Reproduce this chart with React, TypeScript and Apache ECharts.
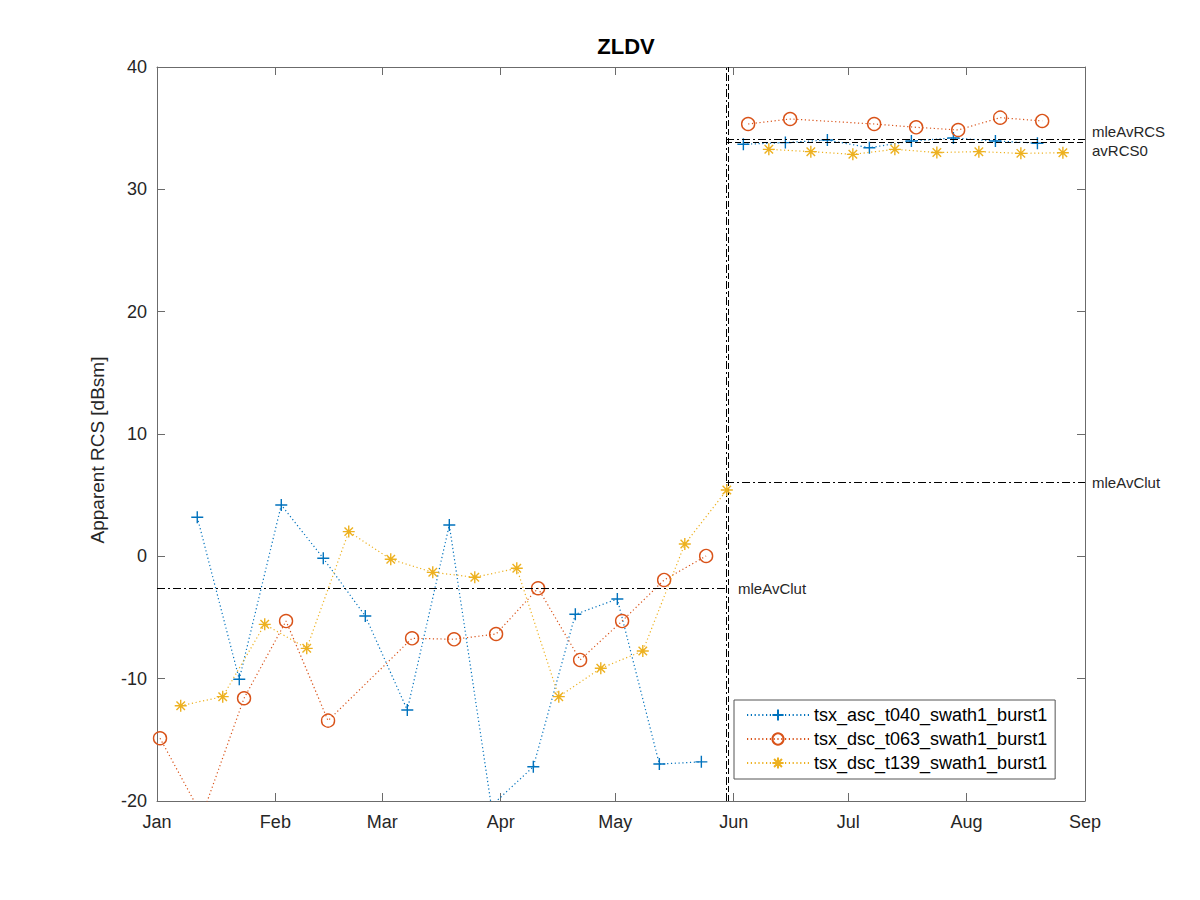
import React, { useEffect, useRef } from 'react';
import * as echarts from 'echarts';

const FONT = '"Liberation Sans", Arial, Helvetica, sans-serif';
const TEXT_COLOR = '#262626';
const AXIS_COLOR = '#6b6b6b';

const TITLE = 'ZLDV';
const Y_LABEL = 'Apparent RCS [dBsm]';
const X_MIN = '2019-01-01';
const X_MAX = '2019-09-01';
const Y_MIN = -20;
const Y_MAX = 40;
const Y_STEP = 10;

const seriesNames = ['tsx_asc_t040_swath1_burst1', 'tsx_dsc_t063_swath1_burst1', 'tsx_dsc_t139_swath1_burst1'];
const seriesColors = ['#0072BD', '#D95319', '#EDB120'];

// tsx_asc_t040 (acquisition time of day)
const ascTime = '13:00';
const ascDates1 = ['2019-01-11', '2019-01-22', '2019-02-02', '2019-02-13', '2019-02-24', '2019-03-07', '2019-03-18', '2019-03-29', '2019-04-09', '2019-04-20', '2019-05-01', '2019-05-12', '2019-05-23'];
const ascValues1 = [3.2, -10.05, 4.2, -0.16, -4.88, -12.56, 2.56, -20.4, -17.2, -4.74, -3.49, -16.98, -16.8];
const ascDates2 = ['2019-06-03', '2019-06-14', '2019-06-25', '2019-07-06', '2019-07-17', '2019-07-28', '2019-08-08', '2019-08-19'];
const ascValues2 = [33.68, 33.82, 34.03, 33.4, 33.95, 34.2, 33.95, 33.77];

// tsx_dsc_t063
const dsc063Time = '19:00';
const dsc063Dates1 = ['2019-01-01', '2019-01-12', '2019-01-23', '2019-02-03', '2019-02-14', '2019-03-08', '2019-03-19', '2019-03-30', '2019-04-10', '2019-04-21', '2019-05-02', '2019-05-13', '2019-05-24'];
const dsc063Values1 = [-14.87, -21.2, -11.6, -5.29, -13.43, -6.7, -6.78, -6.35, -2.61, -8.47, -5.29, -1.93, 0.03];
const dsc063Dates2 = ['2019-06-04', '2019-06-15', '2019-07-07', '2019-07-18', '2019-07-29', '2019-08-09', '2019-08-20'];
const dsc063Values2 = [35.34, 35.75, 35.34, 35.07, 34.85, 35.86, 35.59];

// tsx_dsc_t139
const dsc139Time = '05:00';
const dsc139Dates1 = ['2019-01-07', '2019-01-18', '2019-01-29', '2019-02-09', '2019-02-20', '2019-03-03', '2019-03-14', '2019-03-25', '2019-04-05', '2019-04-16', '2019-04-27', '2019-05-08', '2019-05-19', '2019-05-30'];
const dsc139Values1 = [-12.21, -11.47, -5.56, -7.52, 2.02, -0.24, -1.31, -1.71, -0.98, -11.47, -9.15, -7.74, 1.01, 5.42];
const dsc139Dates2 = ['2019-06-10', '2019-06-21', '2019-07-02', '2019-07-13', '2019-07-24', '2019-08-04', '2019-08-15', '2019-08-26'];
const dsc139Values2 = [33.27, 33.08, 32.86, 33.27, 33.01, 33.08, 32.94, 32.99];

// reference lines
const changeDateDashDot = '2019-05-30 00:00';
const changeDateDashed = '2019-05-30 12:00';
const mleAvClutBefore = -2.61;
const mleAvClutAfter = 6.02;
const mleAvRCS = 34.09;
const avRCS0 = 33.82;

function ts(s: string): number {
  const [d, tm] = s.split(' ');
  const [y, m, dd] = d.split('-').map(Number);
  const [h, mi] = (tm || '00:00').split(':').map(Number);
  return new Date(y, m - 1, dd, h, mi).getTime();
}

function buildData(d1: string[], v1: number[], d2: string[], v2: number[], time: string) {
  const a: any[] = d1.map((d, i) => [ts(d + ' ' + time), v1[i]]);
  const b: any[] = d2.map((d, i) => [ts(d + ' ' + time), v2[i]]);
  const gap = (a[a.length - 1][0] + b[0][0]) / 2;
  return [...a, [gap, null], ...b];
}

const DASH_DOT = [8, 3, 2, 3];
const DASHED = [6, 3];
const DOTTED = [1.2, 2.6];

const PLUS = 'path://M6,0L6,12M0,6L12,6';
const STAR = 'path://M6,0L6,12M0,6L12,6M1.76,1.76L10.24,10.24M1.76,10.24L10.24,1.76';

export default function App() {
  const ref = useRef<HTMLDivElement>(null);
  useEffect(() => {
    if (!ref.current) return;
    const chart = echarts.init(ref.current, undefined, { renderer: 'svg' });
    const x0 = ts(X_MIN);
    const x1 = ts(X_MAX);
    const tc = ts(changeDateDashDot);

    const mkSeries = (idx: number, data: any[], symbol: string, size: number, fill: string) => ({
      name: seriesNames[idx],
      type: 'line',
      data,
      connectNulls: false,
      symbol,
      symbolSize: size,
      symbolKeepAspect: true,
      clip: true,
      lineStyle: { color: seriesColors[idx], width: 1.2, type: DOTTED },
      itemStyle: { color: fill, borderColor: seriesColors[idx], borderWidth: 1.4 },
      emphasis: { disabled: true },
      z: 3 + idx,
    });

    const refLineLabel = { fontFamily: FONT, fontSize: 15, color: TEXT_COLOR };
    const axisLineStyle = { show: true, onZero: false, lineStyle: { color: AXIS_COLOR, width: 1 } };
    const tickStyle = { show: true, inside: true, length: 8, lineStyle: { color: AXIS_COLOR } };

    const option: any = {
      animation: false,
      title: {
        text: TITLE,
        left: 621,
        top: 30,
        textAlign: 'center',
        textStyle: { fontFamily: FONT, fontSize: 22, fontWeight: 'bold', color: '#000' },
      },
      graphic: [
        {
          type: 'text',
          x: 97,
          y: 450,
          rotation: Math.PI / 2,
          style: {
            text: Y_LABEL,
            fontFamily: FONT,
            fontSize: 19,
            fill: TEXT_COLOR,
            textAlign: 'center',
            textVerticalAlign: 'middle',
          },
        },
      ],
      grid: { left: 157, right: 115, top: 67, bottom: 99, containLabel: false },
      legend: {
        orient: 'vertical',
        left: 734,
        top: 700,
        padding: [6, 8, 7, 12],
        itemWidth: 62,
        itemHeight: 14,
        itemGap: 6,
        backgroundColor: '#fff',
        borderColor: '#555',
        borderWidth: 1,
        borderRadius: 0,
        textStyle: { fontFamily: FONT, fontSize: 18, color: '#000', lineHeight: 18 },
        data: seriesNames,
      },
      xAxis: [
        {
          type: 'time',
          min: x0,
          max: x1,
          splitNumber: 8,
          minInterval: 28 * 86400000,
          maxInterval: 31 * 86400000,
          axisLine: axisLineStyle,
          axisTick: tickStyle,
          axisLabel: {
            formatter: '{MMM}',
            fontFamily: FONT,
            fontSize: 18,
            color: TEXT_COLOR,
            margin: 12,
            showMinLabel: true,
            showMaxLabel: true,
            hideOverlap: false,
          },
          splitLine: { show: false },
        },
        {
          type: 'time',
          position: 'top',
          min: x0,
          max: x1,
          splitNumber: 8,
          minInterval: 28 * 86400000,
          maxInterval: 31 * 86400000,
          axisLine: axisLineStyle,
          axisTick: tickStyle,
          axisLabel: { show: false },
          splitLine: { show: false },
        },
      ],
      yAxis: [
        {
          type: 'value',
          min: Y_MIN,
          max: Y_MAX,
          interval: Y_STEP,
          axisLine: axisLineStyle,
          axisTick: tickStyle,
          axisLabel: { fontFamily: FONT, fontSize: 18, color: TEXT_COLOR, margin: 10 },
          splitLine: { show: false },
        },
        {
          type: 'value',
          position: 'right',
          min: Y_MIN,
          max: Y_MAX,
          interval: Y_STEP,
          axisLine: axisLineStyle,
          axisTick: tickStyle,
          axisLabel: { show: false },
          splitLine: { show: false },
        },
      ],
      series: [
        mkSeries(0, buildData(ascDates1, ascValues1, ascDates2, ascValues2, ascTime), PLUS, 12, seriesColors[0]),
        mkSeries(1, buildData(dsc063Dates1, dsc063Values1, dsc063Dates2, dsc063Values2, dsc063Time), 'circle', 13, 'rgba(255,255,255,0)'),
        mkSeries(2, buildData(dsc139Dates1, dsc139Values1, dsc139Dates2, dsc139Values2, dsc139Time), STAR, 12, seriesColors[2]),
        {
          name: 'reference',
          type: 'line',
          data: [],
          silent: true,
          z: 2,
          markLine: {
            silent: true,
            symbol: ['none', 'none'],
            animation: false,
            emphasis: { disabled: true },
            data: [
              { xAxis: tc, lineStyle: { color: '#000', width: 1, type: DASH_DOT }, label: { show: false } },
              { xAxis: ts(changeDateDashed), lineStyle: { color: '#000', width: 1, type: DASHED }, label: { show: false } },
              [
                {
                  coord: [x0, mleAvClutBefore],
                  lineStyle: { color: '#000', width: 1, type: DASH_DOT },
                  label: { show: true, position: 'end', formatter: 'mleAvClut', distance: 12, ...refLineLabel },
                },
                { coord: [tc, mleAvClutBefore] },
              ],
              [
                {
                  coord: [tc, mleAvClutAfter],
                  lineStyle: { color: '#000', width: 1, type: DASH_DOT },
                  label: { show: true, position: 'end', formatter: 'mleAvClut', distance: 7, ...refLineLabel },
                },
                { coord: [x1, mleAvClutAfter] },
              ],
              [
                {
                  coord: [tc, mleAvRCS],
                  lineStyle: { color: '#000', width: 1, type: DASH_DOT },
                  label: { show: true, position: 'end', formatter: 'mleAvRCS', distance: 7, verticalAlign: 'bottom', ...refLineLabel },
                },
                { coord: [x1, mleAvRCS] },
              ],
              [
                {
                  coord: [tc, avRCS0],
                  lineStyle: { color: '#000', width: 1, type: DASHED },
                  label: { show: true, position: 'end', formatter: 'avRCS0', distance: 7, verticalAlign: 'top', ...refLineLabel },
                },
                { coord: [x1, avRCS0] },
              ],
            ],
          },
        },
      ],
    };
    chart.setOption(option);
    return () => chart.dispose();
  }, []);
  return (
    <div
      ref={ref}
      style={{ position: 'absolute', left: 0, top: 0, width: 1200, height: 900, background: '#fff' }}
    />
  );
}
